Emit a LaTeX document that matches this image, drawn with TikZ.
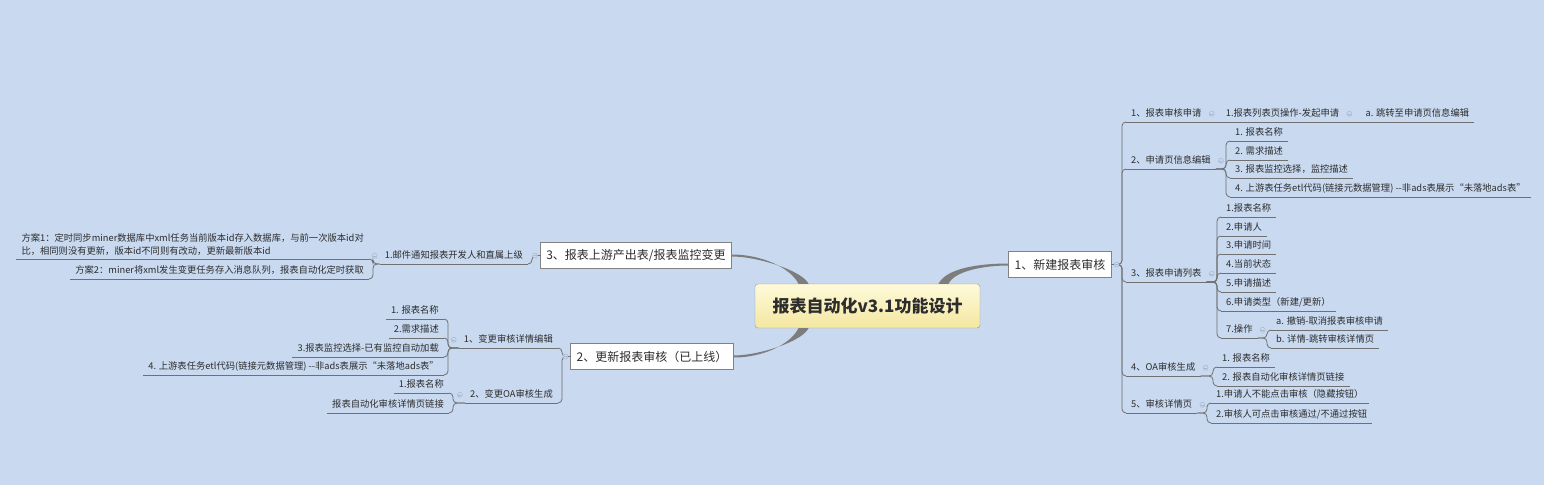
\documentclass[tikz,border=0pt]{standalone}
\usepackage{fontspec}
\setmainfont{Noto Sans CJK SC}
\usepackage{tikz}
\usetikzlibrary{positioning, calc}
\usepackage{xcolor}
\definecolor{SheetBlue}{RGB}{200, 217, 240}
\definecolor{LineGray}{RGB}{112, 112, 112}
\definecolor{BranchGray}{RGB}{125, 125, 125}
\definecolor{BoxStroke}{RGB}{130, 130, 130}
\definecolor{RootTop}{RGB}{254, 250, 218}
\definecolor{RootBottom}{RGB}{244, 231, 160}
\definecolor{RootStroke}{RGB}{160, 155, 135}
\definecolor{InkGray}{RGB}{45, 45, 45}
\definecolor{FoldStroke}{RGB}{168, 182, 205}
\tikzset{
    % Central topic (yellow rounded box)
    roottopic/.style={
        draw=RootStroke,
        top color=RootTop,
        bottom color=RootBottom,
        rounded corners=3pt,
        minimum width=225pt,
        minimum height=44pt,
        text=InkGray,
        font=\fontsize{17}{20}\selectfont\bfseries
    },
    % Main topics (white boxes)
    maintopic/.style={
        draw=BoxStroke,
        fill=white,
        minimum height=26pt,
        inner xsep=6pt,
        text=InkGray,
        font=\fontsize{12}{14}\selectfont
    },
    % Sub topic text (the underline is drawn apart)
    subtxt/.style={
        inner xsep=5pt,
        inner ysep=3pt,
        text=InkGray,
        font=\fontsize{9.3}{13}\selectfont
    },
    subtopic/.style={subtxt, text height=8pt, text depth=2pt},
    subnote/.style={subtxt, align=left},
    % Elbow connector and underline
    elbow/.style={draw=LineGray, line width=0.8pt, rounded corners=4pt},
    uline/.style={draw=LineGray, line width=0.8pt},
    % Tapered main branch
    trunk/.style={fill=BranchGray},
    % Collapse marker
    fold/.style={
        circle,
        draw=FoldStroke,
        fill=SheetBlue,
        minimum size=5pt,
        inner sep=0pt,
        line width=0.5pt,
        path picture={\draw[FoldStroke, line width=0.5pt]
            ([xshift=-1.5pt]path picture bounding box.center) --
            ([xshift=1.5pt]path picture bounding box.center);}
    }
}
\begin{document}
\begin{tikzpicture}[x=1pt, y=-1pt]

    % ==========================================
    % SHEET
    % ==========================================
    \fill[SheetBlue] (0,0) rectangle (1544,485);
    \useasboundingbox (0,0) rectangle (1544,485);

    % ==========================================
    % CENTRAL TOPIC AND MAIN TOPICS
    % ==========================================
    \node[roottopic] (root) at (867.5,306) {报表自动化v3.1功能设计};
    \node[maintopic] (t1) at (1060,264.5) {1、新建报表审核};
    \node[maintopic] (t3) at (636,255.5) {3、报表上游产出表/报表监控变更};
    \node[maintopic] (t2) at (652,356.5) {2、更新报表审核（已上线）};

    % Tapered branches (wide at the centre, thin at the topic)
    \fill[trunk] ($(root.north)+(71,0)$) .. controls +(8,-16) and +(-28,0) .. ($(t1.west)+(0,-1)$)
        -- ($(t1.west)+(0,1)$) .. controls +(-24,0) and +(6,-13) .. ($(root.north)+(81,0)$) -- cycle;
    \fill[trunk] ($(root.north)+(-69,0)$) .. controls +(-8,-16) and +(30,0) .. ($(t3.east)+(0,-1)$)
        -- ($(t3.east)+(0,1)$) .. controls +(26,0) and +(-6,-13) .. ($(root.north)+(-59,0)$) -- cycle;
    \fill[trunk] ($(root.south)+(-69,0)$) .. controls +(-8,16) and +(30,0) .. ($(t2.east)+(0,1)$)
        -- ($(t2.east)+(0,-1)$) .. controls +(26,0) and +(-6,13) .. ($(root.south)+(-59,0)$) -- cycle;

    % ==========================================
    % RIGHT: 1、新建报表审核
    % ==========================================
    \node[subtopic, anchor=south west] (r1) at (1126,122) {1、报表审核申请};
    \node[subtopic, right=14pt of r1] (r11) {1.报表列表页操作-发起申请};
    \node[subtopic, right=16pt of r11] (r111) {a. 跳转至申请页信息编辑};
    \node[subtopic, anchor=south west] (r2) at (1126,169) {2、申请页信息编辑};
    \node[subtopic, anchor=south west] (r3) at (1126,282) {3、报表申请列表};
    \node[subtopic, anchor=south west] (r4) at (1126,376) {4、OA审核生成};
    \node[subtopic, anchor=south west] (r5) at (1126,413) {5、审核详情页};

    \foreach \n in {r1, r2, r3, r4, r5}
        \draw[elbow] (t1.east) -| ([xshift=-4pt]\n.south west) -- (\n.south west);
    \draw[elbow] (r1.south east) -- (r11.south west);
    \draw[elbow] (r11.south east) -- (r111.south west);

    % 2、申请页信息编辑
    \foreach \n/\y/\t in {r21/141/{1. 报表名称}, r22/160/{2. 需求描述}, r23/178/{3. 报表监控选择，监控描述},
        r24/197/{4. 上游表任务etl代码(链接元数据管理) -\kern0pt-非ads表展示“未落地ads表”}} {
        \node[subtopic, anchor=south west] (\n) at (1230,\y) {\t};
        \draw[elbow] (r2.south east) -| ([xshift=-4pt]\n.south west) -- (\n.south west);
    }

    % 3、报表申请列表
    \foreach \n/\y/\t in {r31/217/{1.报表名称}, r32/236/{2.申请人}, r33/254/{3.申请时间}, r34/273/{4.当前状态},
        r35/292/{5.申请描述}, r36/311/{6.申请类型（新建/更新）}, r37/338/{7.操作}} {
        \node[subtopic, anchor=south west] (\n) at (1221,\y) {\t};
        \draw[elbow] (r3.south east) -| ([xshift=-4pt]\n.south west) -- (\n.south west);
    }
    \foreach \n/\y/\t in {r371/330/{a. 撤销-取消报表审核申请}, r372/348/{b. 详情-跳转审核详情页}} {
        \node[subtopic, anchor=south west] (\n) at (1271,\y) {\t};
        \draw[elbow] (r37.south east) -| ([xshift=-4pt]\n.south west) -- (\n.south west);
    }

    % 4、OA审核生成
    \foreach \n/\y/\t in {r41/367/{1. 报表名称}, r42/386/{2. 报表自动化审核详情页链接}} {
        \node[subtopic, anchor=south west] (\n) at (1217,\y) {\t};
        \draw[elbow] (r4.south east) -| ([xshift=-4pt]\n.south west) -- (\n.south west);
    }

    % 5、审核详情页
    \foreach \n/\y/\t in {r51/403/{1.申请人不能点击审核（隐藏按钮）}, r52/423/{2.审核人可点击审核通过/不通过按钮}} {
        \node[subtopic, anchor=south west] (\n) at (1211,\y) {\t};
        \draw[elbow] (r5.south east) -| ([xshift=-4pt]\n.south west) -- (\n.south west);
    }

    % ==========================================
    % LEFT: 3、报表上游产出表/报表监控变更
    % ==========================================
    \node[subtopic, anchor=south east] (l31) at (528,264) {1.邮件通知报表开发人和直属上级};
    \draw[elbow] (t3.west) -| ([xshift=4pt]l31.south east) -- (l31.south east);

    \node[subnote, anchor=south east] (l311) at (369,259)
        {方案1：定时同步miner数据库中xml任务当前版本id存入数据库，与前一次版本id对\\比，相同则没有更新，版本id不同则有改动，更新最新版本id};
    \node[subtopic, anchor=south east] (l312) at (369,279) {方案2：miner将xml发生变更任务存入消息队列，报表自动化定时获取};
    \foreach \n in {l311, l312}
        \draw[elbow] (l31.south west) -| ([xshift=4pt]\n.south east) -- (\n.south east);

    % ==========================================
    % LEFT: 2、更新报表审核（已上线）
    % ==========================================
    \node[subtopic, anchor=south east] (l21) at (558,348) {1、变更审核详情编辑};
    \node[subtopic, anchor=south east] (l22) at (558,403) {2、变更OA审核生成};
    \foreach \n in {l21, l22}
        \draw[elbow] (t2.west) -| ([xshift=4pt]\n.south east) -- (\n.south east);

    \foreach \n/\y/\t in {l211/319/{1. 报表名称}, l212/338/{2.需求描述}, l213/357/{3.报表监控选择-已有监控自动加载},
        l214/375/{4. 上游表任务etl代码(链接元数据管理) -\kern0pt-非ads表展示“未落地ads表”}} {
        \node[subtopic, anchor=south east] (\n) at (444,\y) {\t};
        \draw[elbow] (l21.south west) -| ([xshift=4pt]\n.south east) -- (\n.south east);
    }
    \foreach \n/\y/\t in {l221/393/{1.报表名称}, l222/413/{报表自动化审核详情页链接}} {
        \node[subtopic, anchor=south east] (\n) at (449,\y) {\t};
        \draw[elbow] (l22.south west) -| ([xshift=4pt]\n.south east) -- (\n.south east);
    }

    % Underlines
    \foreach \n in {r1, r11, r111, r2, r21, r22, r23, r24, r3, r31, r32, r33, r34, r35, r36, r37, r371, r372,
        r4, r41, r42, r5, r51, r52, l31, l311, l312, l21, l22, l211, l212, l213, l214, l221, l222}
        \draw[uline] (\n.south west) -- (\n.south east);

    % Collapse markers
    \foreach \n in {t1, r1, r11, r2, r3, r37, r4, r5}
        \node[fold] (m\n) at ([xshift=5pt]\n.east) {};
    \foreach \n in {t3, t2, l31, l21, l22}
        \node[fold] (m\n) at ([xshift=-5pt]\n.west) {};

\end{tikzpicture}
\end{document}
